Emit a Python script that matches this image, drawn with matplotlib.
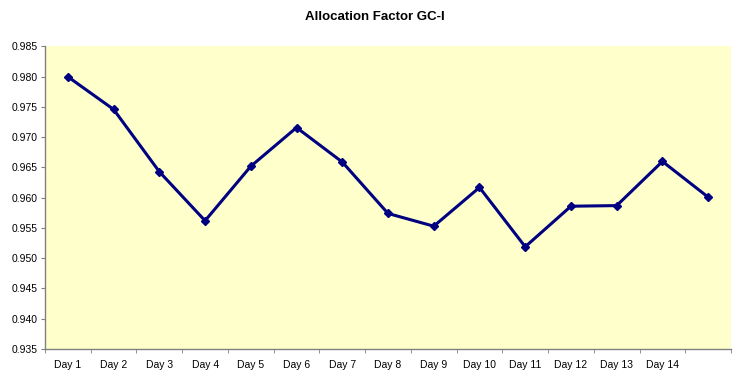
import matplotlib
matplotlib.use("Agg")
import matplotlib.pyplot as plt
import numpy as np

plt.rcParams["font.family"] = ["Liberation Sans", "DejaVu Sans"]

# data
days = ["Day 1", "Day 2", "Day 3", "Day 4", "Day 5", "Day 6", "Day 7",
        "Day 8", "Day 9", "Day 10", "Day 11", "Day 12", "Day 13", "Day 14", ""]
factor = [0.9800, 0.9746, 0.9643, 0.9562, 0.9652, 0.9716, 0.9659,
          0.9574, 0.9553, 0.9617, 0.9519, 0.9586, 0.9587, 0.9660, 0.9601]
y_ticks = [0.935, 0.940, 0.945, 0.950, 0.955, 0.960, 0.965, 0.970, 0.975, 0.980, 0.985]

fig = plt.figure(figsize=(7.5, 3.81), dpi=100)
ax = fig.add_axes([0.06, 0.084, 0.9147, 0.794])
ax.set_facecolor("#FFFFCC")

x = np.arange(len(factor))
ax.plot(x, factor, color="#000080", linewidth=2.2, marker="D", markersize=4.5)

ax.set_xlim(-0.5, len(factor) - 0.5)
ax.set_ylim(0.935, 0.985)
ax.set_yticks(y_ticks)
ax.set_yticklabels([f"{v:.3f}" for v in y_ticks], fontsize=7.5)

# category labels centred, tick marks on the boundaries
ax.set_xticks(x)
ax.set_xticklabels(days, fontsize=7.5)
ax.tick_params(axis="x", which="major", length=0, pad=8)
ax.set_xticks(np.arange(-0.5, len(factor)), minor=True)
ax.tick_params(axis="x", which="minor", length=3, color="#808080")
ax.tick_params(axis="y", length=3, color="#808080", pad=2)

for s in ["top", "right"]:
    ax.spines[s].set_visible(False)
for s in ["left", "bottom"]:
    ax.spines[s].set_color("#808080")
    ax.spines[s].set_linewidth(1)

fig.text(0.5, 0.955, "Allocation Factor GC-I", ha="center", va="center",
         fontsize=9.5, fontweight="bold")

fig.savefig("out.png", dpi=100)
